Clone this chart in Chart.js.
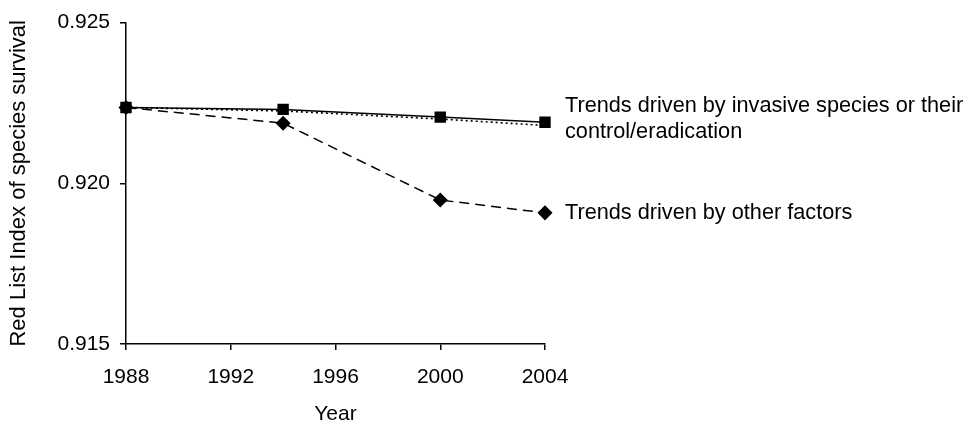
<!DOCTYPE html>
<html>
<head>
<meta charset="utf-8">
<script src="https://cdn.jsdelivr.net/npm/chart.js@4/dist/chart.umd.min.js"></script>
<style>
  html, body { margin: 0; padding: 0; background: #fff; }
  #wrap { width: 969px; height: 424px; }
</style>
</head>
<body>
<div id="wrap"><canvas id="rliChart" width="969" height="424"></canvas></div>
<script>
// Data
const years = [1988, 1994, 2000, 2004];
const invasiveSolid = [0.92236, 0.92230, 0.92206, 0.92190];
const invasiveDotted = [0.92236, 0.92225, 0.92200, 0.92180];
const otherFactors = [0.92236, 0.92187, 0.91948, 0.91908];

const xTicks = [1988, 1992, 1996, 2000, 2004];
const yTicks = [0.915, 0.920, 0.925];

const invasiveLabel = ['Trends driven by invasive species or their', 'control/eradication'];
const otherLabel = ['Trends driven by other factors'];

const FONT = '"Liberation Sans", Arial, sans-serif';

function toPoints(values) {
    return years.map((yr, i) => ({ x: yr, y: values[i] }));
}

// Text labels at the right end of the lines
const endLabels = {
    id: 'endLabels',
    afterDatasetsDraw(chart) {
        const { ctx, chartArea, scales } = chart;
        const items = [
            { values: invasiveSolid, lines: invasiveLabel, shift: -3 },
            { values: otherFactors, lines: otherLabel, shift: 0 }
        ];
        ctx.save();
        ctx.font = '21.7px ' + FONT;
        ctx.fillStyle = '#000';
        ctx.textAlign = 'left';
        ctx.textBaseline = 'middle';
        items.forEach(item => {
            const yc = scales.y.getPixelForValue(item.values[item.values.length - 1]) + item.shift;
            const lh = 26;
            const start = yc - (item.lines.length - 1) * lh / 2;
            item.lines.forEach((txt, i) => {
                ctx.fillText(txt, chartArea.right + 20, start + i * lh);
            });
        });
        ctx.restore();
    }
};

const ctx = document.getElementById('rliChart').getContext('2d');
new Chart(ctx, {
    type: 'line',
    data: {
        datasets: [
            {
                label: 'Invasive species',
                data: toPoints(invasiveSolid),
                borderColor: '#000',
                backgroundColor: '#000',
                borderWidth: 1.5,
                pointStyle: 'rect',
                pointRadius: 7,
                clip: false,
                order: 0
            },
            {
                label: 'Invasive species (dotted)',
                data: toPoints(invasiveDotted),
                borderColor: '#000',
                borderWidth: 1.6,
                borderDash: [2, 3],
                pointRadius: 0,
                clip: false,
                order: 1
            },
            {
                label: 'Other factors',
                data: toPoints(otherFactors),
                borderColor: '#000',
                backgroundColor: '#000',
                borderWidth: 1.5,
                borderDash: [10, 6],
                pointStyle: 'rectRot',
                pointRadius: 6.5,
                clip: false,
                order: 2
            }
        ]
    },
    options: {
        responsive: false,
        animation: false,
        layout: { padding: { top: 18, right: 424, bottom: 0, left: 0 } },
        plugins: { legend: { display: false }, tooltip: { enabled: false } },
        scales: {
            x: {
                type: 'linear',
                min: 1988,
                max: 2004,
                afterBuildTicks: (s) => { s.ticks = xTicks.map(v => ({ value: v })); },
                afterFit: (s) => { s.height = 80; },
                border: { color: '#000', width: 1.5 },
                grid: { drawOnChartArea: false, drawTicks: true, tickLength: 6, color: '#000', lineWidth: 1.5 },
                ticks: {
                    color: '#000',
                    font: { family: FONT, size: 21 },
                    padding: 15,
                    maxRotation: 0,
                    callback: (v) => String(v)
                },
                title: {
                    display: true,
                    text: 'Year',
                    color: '#000',
                    font: { family: FONT, size: 21 },
                    padding: { top: 0, bottom: -3 }
                }
            },
            y: {
                min: 0.915,
                max: 0.925,
                afterBuildTicks: (s) => { s.ticks = yTicks.map(v => ({ value: v })); },
                afterFit: (s) => { s.width = 126; },
                border: { color: '#000', width: 1.5 },
                grid: { drawOnChartArea: false, drawTicks: true, tickLength: 6, color: '#000', lineWidth: 1.5 },
                ticks: {
                    color: '#000',
                    font: { family: FONT, size: 21 },
                    padding: 10,
                    callback: (v) => Number(v).toFixed(3)
                },
                title: {
                    display: true,
                    text: 'Red List Index of species survival',
                    color: '#000',
                    font: { family: FONT, size: 22 },
                    padding: { top: 6, bottom: 0 }
                }
            }
        }
    },
    plugins: [endLabels]
});
</script>
</body>
</html>
